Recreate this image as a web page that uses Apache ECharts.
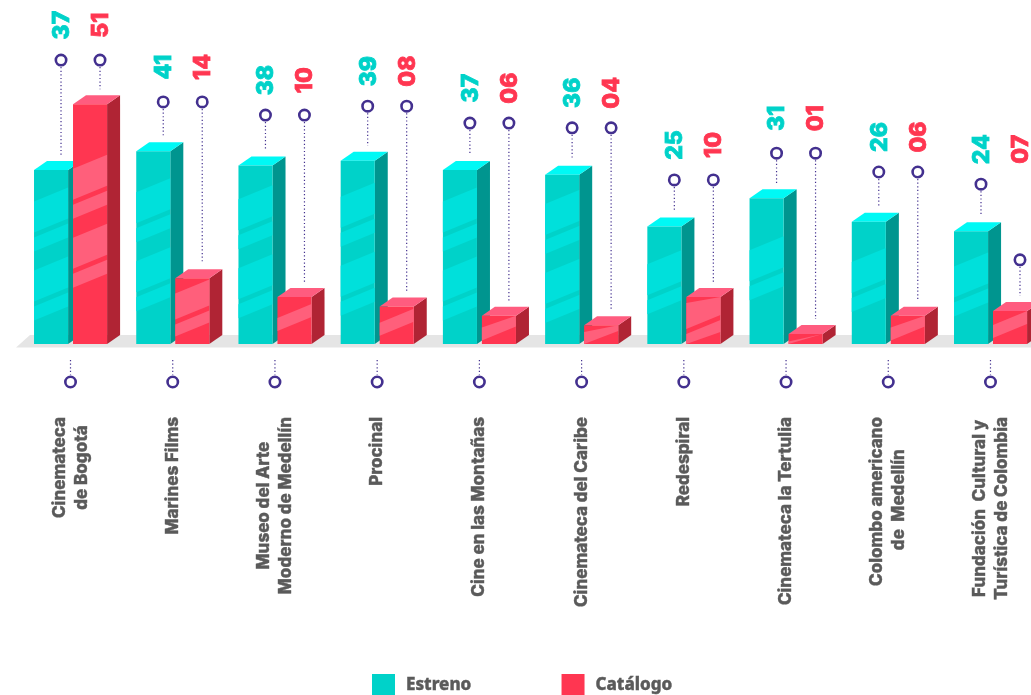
<!DOCTYPE html>
<html>
<head>
<meta charset="utf-8">
<style>html,body{margin:0;padding:0;background:#fff;overflow:hidden}#c{width:1031px;height:695px}</style>
<script src="https://cdn.jsdelivr.net/npm/echarts@6/dist/echarts.min.js"></script>
</head>
<body>
<div id="c"></div>
<script>
var categories = ['Cinemateca\nde Bogotá','Marines Films','Museo del Arte\nModerno de Medellín','Procinal','Cine en las Montañas','Cinemateca del Caribe','Redespiral','Cinemateca la Tertulia','Colombo americano\n de  Medellín','Fundación  Cultural y\nTurística de Colombia'];
var estreno = [37,41,38,39,37,36,25,31,26,24];
var catalogo = [51,14,10,8,6,4,10,1,6,7];
var guideEstreno = [50.4,41.5,38.7,40.6,37,36,24.9,30.6,26.6,24];
var guideCatalogo = [50.4,41.5,38.7,40.6,37,36,24.9,30.6,26.6,7.9];
var FONT = 'Inter,"Open Sans",sans-serif';
var INK = '#43308f';
var TEAL = {front:'#00d2c9',band:'#00e0db',top:'#00f9f5',side:'#00958f',label:'#00d2c9'};
var RED = {front:'#ff3651',band:'#ff5f7b',top:'#ff5c7f',side:'#b02434',label:'#ff3651'};
var MIN_BAR = 10;

function pad(v){return (v<10?'0':'')+v;}
function stripes(xl,xr,top,bot,n,col){
  var h=bot-top, out=[];
  var layout = n===4 ? [[0,31],[36,50],[69,100],[105,119]] : n===2 ? [[0,31],[36,50]] : [[0,13]];
  var span = layout[layout.length-1][1];
  if(n===2 && h<80){ layout=[[0,26],[31,43]]; span=43; }
  if(n===1 && h<15){ layout=[[0,3]]; span=3; }
  var start = (top+bot)/2 - span/2 + 4;
  var rise = 14;
  layout.forEach(function(b){
    var yl0=start+b[0], yl1=start+b[1], yr0=yl0-rise, yr1=yl1-rise;
    var c=function(y){return Math.max(top,Math.min(bot,y));};
    out.push({type:'polygon',shape:{points:[[xl,c(yl0)],[xr,c(yr0)],[xr,c(yr1)],[xl,c(yl1)]]},style:{fill:col},silent:true});
  });
  return out;
}
function bandCount(h,i,isCat){
  if(isCat && i===6) return 2;
  if(h>=150) return 4;
  if(h>=60) return 2;
  return 1;
}
function barRenderer(col,offset,guide,isCat){
  return function(params,api){
    var i=api.value(0), v=api.value(1);
    var top=api.coord([i,v]), base=api.coord([i,0]);
    var band=api.size([1,0])[0];
    var w=band/3, xl=top[0]+offset*band, xr=xl+w, dx=13, dy=9;
    var b=base[1], t=Math.min(top[1],b-MIN_BAR);
    var kids=[];
    kids.push({type:'polygon',shape:{points:[[xr,t],[xr+dx,t-dy],[xr+dx,b-dy],[xr,b]]},style:{fill:col.side}});
    kids.push({type:'polygon',shape:{points:[[xl,t],[xl+dx,t-dy],[xr+dx,t-dy],[xr,t]]},style:{fill:col.top}});
    kids.push({type:'rect',shape:{x:xl,y:t,width:w,height:b-t},style:{fill:col.front}});
    kids=kids.concat(stripes(xl,xr,t,b,bandCount(b-t,i,isCat),col.band));
    var px=xl+27, py=api.coord([i,guide[i]])[1]-47;
    var labelY=api.coord([i,guideEstreno[i]])[1]-82;
    kids.push({type:'line',shape:{x1:px,y1:py+7,x2:px,y2:t-dy-6},style:{stroke:INK,lineWidth:1.2,lineDash:[1.2,2.4]}});
    kids.push({type:'circle',shape:{cx:px,cy:py,r:5.2},style:{fill:'#fff',stroke:INK,lineWidth:2.6}});
    kids.push({type:'text',x:px+1,y:labelY,rotation:Math.PI/2,style:{text:pad(v),fill:col.label,stroke:col.label,lineWidth:0.8,font:'800 23px '+FONT,align:'center',verticalAlign:'middle'}});
    return {type:'group',children:kids};
  };
}
var chart=echarts.init(document.getElementById('c'),null,{renderer:'canvas'});
chart.setOption({
  animation:false,
  backgroundColor:'#fff',
  grid:{left:19.4,right:-10.6,top:15,bottom:351,containLabel:false,outerBoundsMode:'none'},
  legend:{
    data:['Estreno','Catálogo'],left:367,top:669,itemWidth:23,itemHeight:22,itemGap:90,
    icon:'rect',selectedMode:false,
    textStyle:{color:'#5a5a5a',fontFamily:'"Noto Sans",sans-serif',fontWeight:800,fontSize:17,padding:[3,0,0,6],textBorderColor:'#5a5a5a',textBorderWidth:0.4}
  },
  xAxis:{type:'category',data:categories,
    axisLine:{show:false},axisTick:{show:false},
    axisLabel:{interval:0,rotate:90,margin:73,hideOverlap:false,
      formatter:function(s){return s.split('\n').map(function(l){return '{c|'+l+'}';}).join('\n');},
      rich:{c:{align:'center',fontFamily:FONT,fontWeight:800,fontSize:17,color:'#5a5a5a',lineHeight:22,textBorderColor:'#5a5a5a',textBorderWidth:0.4}}}},
  yAxis:{type:'value',min:0,max:70,show:false},
  series:[
    {type:'custom',name:'suelo',silent:true,clip:false,z:1,coordinateSystem:'cartesian2d',data:[[0,0]],
      renderItem:function(params,api){
        var y=api.coord([0,0])[1];
        return {type:'polygon',shape:{points:[[16,y+3.5],[30,y-9],[params.coordSys.x+params.coordSys.width,y-9],[params.coordSys.x+params.coordSys.width,y+3.5]]},style:{fill:'#e5e5e5'}};
      }},
    {type:'custom',name:'Estreno',silent:true,clip:false,z:2,itemStyle:{color:TEAL.front},
      data:estreno.map(function(v,i){return [i,v];}),renderItem:barRenderer(TEAL,-0.357,guideEstreno,false)},
    {type:'custom',name:'Catálogo',silent:true,clip:false,z:3,itemStyle:{color:RED.front},
      data:catalogo.map(function(v,i){return [i,v];}),renderItem:barRenderer(RED,0.0245,guideCatalogo,true)},
    {type:'custom',name:'pines',silent:true,clip:false,z:3,
      data:categories.map(function(c,i){return [i,0];}),
      renderItem:function(params,api){
        var p=api.coord([api.value(0),0]);
        return {type:'group',children:[
          {type:'line',shape:{x1:p[0],y1:p[1]+16,x2:p[0],y2:p[1]+31},style:{stroke:INK,lineWidth:1.2,lineDash:[1.2,2.4]}},
          {type:'circle',shape:{cx:p[0],cy:p[1]+38,r:5.2},style:{fill:'#fff',stroke:INK,lineWidth:2.6}}
        ]};
      }}
  ]
});
</script>
</body>
</html>
